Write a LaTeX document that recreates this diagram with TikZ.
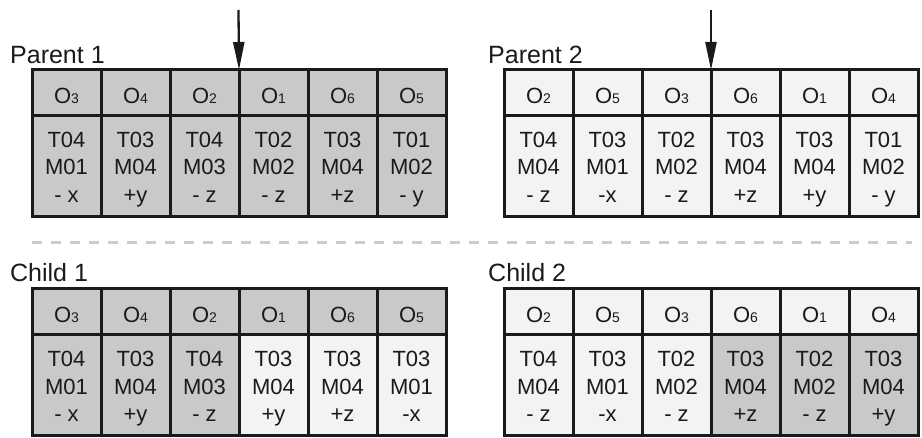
\documentclass[tikz,border=0pt]{standalone}
\usepackage{fontspec}
\setmainfont{Liberation Sans}
\usetikzlibrary{arrows.meta}
\definecolor{dk}{HTML}{C8C9C8}
\definecolor{lt}{HTML}{F3F3F3}
\definecolor{ink}{HTML}{1A1A1A}
\definecolor{dashc}{HTML}{CCCCCC}
\newcommand\osub[1]{O\raisebox{-0.5pt}{\fontsize{14}{14}\selectfont #1}}
\newcommand\three[3]{\strut #1\\\strut #2\\\strut #3}
\tikzset{
  cell/.style={draw=ink, line width=3pt, minimum width=69pt, inner sep=0pt, outer sep=0pt},
  txt/.style={text=ink, align=center, inner sep=0pt, font=\fontsize{22}{27.5}\selectfont},
  head/.style={cell, minimum height=46pt},
  body/.style={cell, minimum height=101pt},
  lbl/.style={anchor=base west, inner sep=0pt, font=\fontsize{25}{30}\selectfont, text=ink},
  arr/.style={line width=2.3pt, draw=ink, -{Triangle[length=28pt,width=11pt]}},
  dashline/.style={draw=dashc, line width=3pt, dash pattern=on 10pt off 9pt}
}
\newcommand\gtable[4]{%
  \foreach \h/\b/\fh/\fb [count=\i] in {#4} {
    \node[head, fill=\fh, label={[txt, yshift=-5pt]center:{\strut\osub{\h}}}] (#1h\i)
      at ({#2+34.5+(\i-1)*69}, {-(#3+23)}) {};
    \node[body, fill=\fb, label={[txt, yshift=-3pt]center:{\b}}] (#1b\i)
      at ({#2+34.5+(\i-1)*69}, {-(#3+46+50.5)}) {};
  }}
\begin{document}
\begin{tikzpicture}[x=1pt, y=1pt]
\useasboundingbox (0,0) rectangle (922,-438);
% labels
\node[lbl] (l1) at (10,-64) {Parent 1};
\node[lbl] (l2) at (488,-64) {Parent 2};
\node[lbl] (l3) at (10,-282) {Child 1};
\node[lbl] (l4) at (488,-282) {Child 2};
% tables
\gtable{p}{32}{70}{3/{\three{T04}{M01}{- x}}/dk/dk, 4/{\three{T03}{M04}{+y}}/dk/dk, 2/{\three{T04}{M03}{- z}}/dk/dk,
  1/{\three{T02}{M02}{- z}}/dk/dk, 6/{\three{T03}{M04}{+z}}/dk/dk, 5/{\three{T01}{M02}{- y}}/dk/dk}
\gtable{q}{504}{70}{2/{\three{T04}{M04}{- z}}/lt/lt, 5/{\three{T03}{M01}{-x}}/lt/lt, 3/{\three{T02}{M02}{- z}}/lt/lt,
  6/{\three{T03}{M04}{+z}}/lt/lt, 1/{\three{T03}{M04}{+y}}/lt/lt, 4/{\three{T01}{M02}{- y}}/lt/lt}
\gtable{c}{32}{289}{3/{\three{T04}{M01}{- x}}/dk/dk, 4/{\three{T03}{M04}{+y}}/dk/dk, 2/{\three{T04}{M03}{- z}}/dk/dk,
  1/{\three{T03}{M04}{+y}}/dk/lt, 6/{\three{T03}{M04}{+z}}/dk/lt, 5/{\three{T03}{M01}{-x}}/dk/lt}
\gtable{d}{504}{289}{2/{\three{T04}{M04}{- z}}/lt/lt, 5/{\three{T03}{M01}{-x}}/lt/lt, 3/{\three{T02}{M02}{- z}}/lt/lt,
  6/{\three{T03}{M04}{+z}}/lt/dk, 1/{\three{T02}{M02}{- z}}/lt/dk, 4/{\three{T03}{M04}{+y}}/lt/dk}
% arrows
\coordinate (t1) at (238.5,-10);
\coordinate (t2) at (711,-10);
\draw[arr] (t1) -- (ph3.north east);
\draw[arr] (t2) -- (qh3.north east);
% dashed separator
\coordinate (s1) at (32,-243);
\coordinate (s2) at (912,-243);
\draw[dashline] (s1) -- (s2);
\end{tikzpicture}
\end{document}
